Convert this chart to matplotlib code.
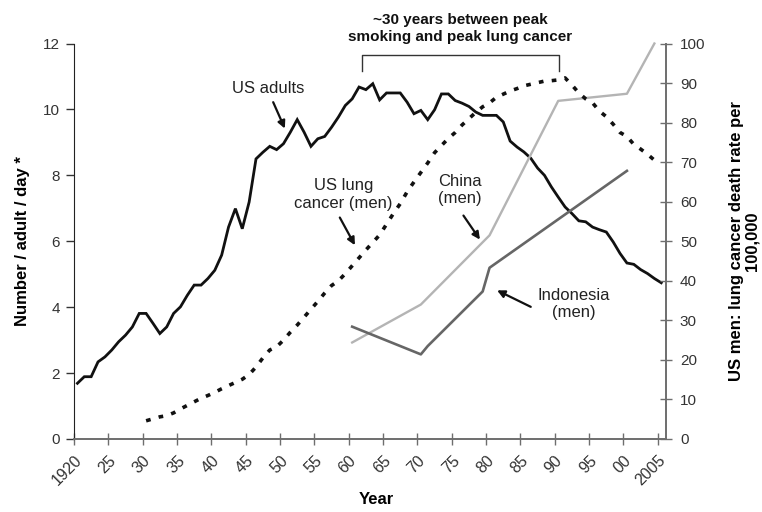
import matplotlib
matplotlib.use("Agg")
import matplotlib.pyplot as plt
import numpy as np

plt.rcParams['font.family'] = ['Liberation Sans', 'DejaVu Sans']

# Cigarettes per US adult per day, 1920-2005
adult_years = list(range(1920, 2006))
adult_cigs = [
    1.69, 1.89, 1.89, 2.34, 2.49, 2.70, 2.95, 3.15, 3.40, 3.81,
    3.81, 3.51, 3.20, 3.40, 3.81, 4.01, 4.36, 4.67, 4.67, 4.87,
    5.12, 5.58, 6.43, 6.99, 6.38, 7.19, 8.50, 8.70, 8.88, 8.78,
    8.96, 9.31, 9.69, 9.31, 8.88, 9.11, 9.18, 9.46, 9.77, 10.12,
    10.32, 10.68, 10.60, 10.78, 10.29, 10.50, 10.50, 10.50, 10.22, 9.87,
    9.97, 9.69, 9.99, 10.47, 10.47, 10.27, 10.19, 10.09, 9.92, 9.82,
    9.82, 9.82, 9.62, 9.04, 8.86, 8.71, 8.52, 8.22, 8.00, 7.65,
    7.34, 7.04, 6.84, 6.62, 6.59, 6.43, 6.35, 6.28, 5.98, 5.63,
    5.34, 5.30, 5.14, 5.02, 4.87, 4.74,
]

# US male lung cancer death rate per 100,000, 1930-2004
us_lc_years = list(range(1930, 2005))
us_lc_rate = [
    4.6, 5.1, 5.6, 5.9, 6.6, 7.6, 8.5, 9.4, 10.3, 11.0,
    11.8, 12.7, 13.5, 14.3, 15.1, 16.3, 18.2, 20.5, 22.5, 23.3,
    25.0, 27.0, 28.8, 30.8, 32.8, 34.8, 36.9, 38.8, 40.0, 41.8,
    43.8, 45.8, 47.8, 49.7, 51.6, 54.3, 57.0, 59.5, 62.5, 65.0,
    67.4, 69.8, 72.4, 74.2, 76.0, 77.5, 79.4, 81.0, 82.6, 84.0,
    85.0, 86.4, 87.2, 88.0, 88.6, 89.3, 89.7, 90.1, 90.5, 90.6,
    90.8, 91.3, 89.5, 87.5, 86.0, 85.0, 82.9, 81.5, 79.6, 77.5,
    76.5, 74.5, 73.3, 72.0, 70.5,
]

# Cigarettes per adult per day (men), shown against the right-hand scale
china_years = [1960, 1970, 1980, 1990, 2000, 2004]
china_vals = [24.4, 34.0, 51.5, 85.5, 87.3, 100.0]

indo_years = [1960, 1970, 1971, 1979, 1980, 2000]
indo_vals = [28.4, 21.4, 23.5, 37.3, 43.3, 67.8]

tick_years = list(range(1920, 2006, 5))
tick_labels = ["1920", "25", "30", "35", "40", "45", "50", "55", "60", "65",
               "70", "75", "80", "85", "90", "95", "00", "2005"]

AX_GRAY = "#6e6e6e"

fig = plt.figure(figsize=(7.62, 5.12), dpi=100)
ax = fig.add_axes([0.0971, 0.1426, 0.777, 0.7724])
ax2 = ax.twinx()

# each year's value sits in the middle of its yearly slot
def mid(years):
    return np.asarray(years, dtype=float) + 0.5

ax.plot(mid(adult_years), adult_cigs, color="#111111", lw=2.0,
        solid_joinstyle="miter", zorder=5)
ax2.plot(mid(us_lc_years), us_lc_rate, color="#111111", lw=2.6,
         linestyle=(0, (1.3, 2.3)), dash_capstyle="butt", zorder=4)
ax2.plot(mid(china_years), china_vals, color="#b4b4b4", lw=1.7, zorder=3,
         clip_on=False)
ax2.plot(mid(indo_years), indo_vals, color="#666666", lw=1.9, zorder=3)

ax.set_xlim(1920, 2006.2)
ax.set_ylim(0, 12)
ax2.set_ylim(0, 100)

ax.set_xticks(tick_years)
ax.set_xticklabels(tick_labels, rotation=45, ha="right", va="top",
                   rotation_mode="anchor", fontsize=11.5, color="#333333")
ax.set_yticks(range(0, 13, 2))
ax.tick_params(axis="y", direction="out", length=6, width=1.0,
               labelsize=11, colors="#333333", pad=4)
ax.tick_params(axis="x", direction="inout", length=8, width=1.0,
               color=AX_GRAY, pad=6)
ax2.set_yticks(range(0, 101, 10))
ax2.tick_params(axis="y", direction="inout", length=8, width=1.0,
                color=AX_GRAY, labelsize=11, labelcolor="#333333", pad=6)

for a in (ax, ax2):
    a.spines["top"].set_visible(False)
ax.spines["left"].set_color("#222222")
ax.spines["right"].set_visible(False)
ax.spines["bottom"].set_color(AX_GRAY)
ax.spines["bottom"].set_linewidth(1.4)
ax2.spines["left"].set_visible(False)
ax2.spines["bottom"].set_visible(False)
ax2.spines["right"].set_color(AX_GRAY)
ax2.spines["right"].set_linewidth(1.4)

# axis titles
ax.set_ylabel("Number / adult / day *", fontsize=12, fontweight="bold")
ax.yaxis.set_label_coords(-0.075, 0.5)
fig.text(376 / 762, 1 - 499 / 512, "Year", ha="center", va="center",
         fontsize=12, fontweight="bold")
fig.text(744 / 762, 1 - 241 / 512, "US men: lung cancer death rate per\n100,000",
         ha="center", va="center", rotation=90, fontsize=12,
         fontweight="bold", linespacing=1.0, multialignment="center")

# bracket spanning peak smoking to peak lung cancer
bx0, bx1 = 1961.9, 1990.6
by_top, by_bot = 11.64, 11.18
ax.plot([bx0, bx0, bx1, bx1], [by_bot, by_top, by_top, by_bot],
        color="#333333", lw=1.0, clip_on=False, zorder=6)
ax.text((bx0 + bx1) / 2, 12.45, "~30 years between peak\nsmoking and peak lung cancer",
        ha="center", va="center", fontsize=11, fontweight="bold",
        linespacing=1.25, color="#111111", clip_on=False)

arrow = dict(arrowstyle="-|>", color="#111111", lw=1.6,
             mutation_scale=11, shrinkA=0, shrinkB=0)

ax.text(1948.3, 10.65, "US adults", ha="center", va="center", fontsize=12,
        color="#222222")
ax.annotate("", xy=(1950.7, 9.42), xytext=(1949.0, 10.22), arrowprops=arrow)

ax.text(1959.2, 7.42, "US lung\ncancer (men)", ha="center", va="center",
        fontsize=12, color="#222222", linespacing=1.2)
ax.annotate("", xy=(1960.9, 5.88), xytext=(1958.7, 6.72), arrowprops=arrow)

ax.text(1976.2, 7.55, "China\n(men)", ha="center", va="center",
        fontsize=12, color="#222222", linespacing=1.2)
ax.annotate("", xy=(1979.1, 6.05), xytext=(1976.7, 6.78), arrowprops=arrow)

ax.text(1992.7, 4.09, "Indonesia\n(men)", ha="center", va="center",
        fontsize=12, color="#222222", linespacing=1.2)
ax.annotate("", xy=(1981.6, 4.51), xytext=(1986.5, 4.01), arrowprops=arrow)

fig.savefig("out.png", dpi=100)
